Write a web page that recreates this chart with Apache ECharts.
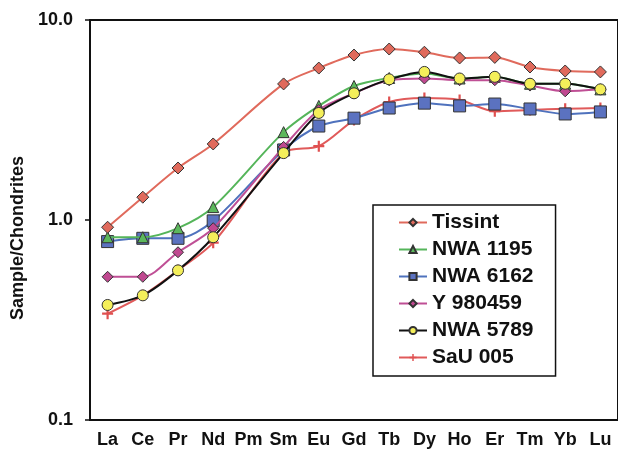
<!DOCTYPE html>
<html>
<head>
<meta charset="utf-8">
<script src="https://cdn.jsdelivr.net/npm/echarts@6/dist/echarts.min.js"></script>
<style>
  html, body { margin: 0; padding: 0; background: #fff; }
  #chart { width: 618px; height: 460px; }
</style>
</head>
<body>
<div id="chart"></div>
<script>
  // rare earth elements, Pm has no measurement
  var elements = ['La', 'Ce', 'Pr', 'Nd', 'Pm', 'Sm', 'Eu', 'Gd', 'Tb', 'Dy', 'Ho', 'Er', 'Tm', 'Yb', 'Lu'];
  var yTicks = [0.1, 1, 10];

  var tissint  = [0.92, 1.30, 1.82, 2.40, null, 4.79, 5.75, 6.68, 7.16, 6.90, 6.46, 6.50, 5.82, 5.56, 5.50];
  var nwa1195  = [0.82, 0.82, 0.91, 1.16, null, 2.75, 3.72, 4.68, 5.13, 5.40, 5.10, 5.20, 4.80, 4.80, 4.50];
  var nwa6162  = [0.78, 0.81, 0.81, 0.99, null, 2.24, 2.95, 3.23, 3.63, 3.84, 3.72, 3.80, 3.59, 3.39, 3.47];
  var y980459  = [0.52, 0.52, 0.69, 0.91, null, 2.32, 3.55, 4.30, 5.00, 5.10, 5.00, 5.00, 4.70, 4.40, 4.50];
  var nwa5789  = [0.376, 0.42, 0.56, 0.82, null, 2.16, 3.43, 4.30, 5.05, 5.50, 5.10, 5.20, 4.80, 4.80, 4.50];
  var sau005   = [0.34, 0.42, 0.56, 0.77, null, 2.16, 2.34, 3.16, 3.89, 4.07, 3.98, 3.50, 3.55, 3.60, 3.63];

  var font = 'Liberation Sans, Arial, sans-serif';
  var plus = 'path://M4,0H6V4H10V6H6V10H4V6H0V4H4Z';

  function makeSeries(name, data, lineColor, symbol, fill, size, z) {
    return {
      name: name,
      type: 'line',
      data: data,
      connectNulls: true,
      smooth: 0.3,
      z: z,
      symbol: symbol,
      symbolSize: size,
      lineStyle: { color: lineColor, width: 2 },
      itemStyle: {
        color: fill,
        borderColor: symbol === plus ? fill : '#333',
        borderWidth: symbol === plus ? 0 : 1
      }
    };
  }

  var chartDom = echarts.init(document.getElementById('chart'));
  var options = {
    animation: false,
    textStyle: { fontFamily: font },
    grid: {
      left: 90,
      right: -2,
      top: 20,
      bottom: 40,
      show: true,
      borderColor: '#111',
      borderWidth: 2
    },
    graphic: [{
      type: 'text',
      left: 9,
      top: 156,
      rotation: Math.PI / 2,
      style: {
        text: 'Sample/Chondrites',
        fill: '#111',
        font: 'bold 18px ' + font
      }
    }],
    legend: {
      orient: 'vertical',
      left: 373,
      top: 205,
      padding: [7, 22, 8, 25],
      itemGap: 6,
      itemWidth: 28,
      itemHeight: 9,
      backgroundColor: '#fff',
      borderColor: '#111',
      borderWidth: 1.5,
      textStyle: { fontSize: 21, fontWeight: 'bold', color: '#111', lineHeight: 21, fontFamily: font },
      data: ['Tissint', 'NWA 1195', 'NWA 6162', 'Y 980459', 'NWA 5789', 'SaU 005']
    },
    xAxis: {
      type: 'category',
      data: elements,
      boundaryGap: true,
      axisLine: { show: true, lineStyle: { color: '#111', width: 2 } },
      axisTick: { show: false },
      axisLabel: { color: '#111', fontSize: 18, fontWeight: 'bold', margin: 11, interval: 0 },
      splitLine: { show: false }
    },
    yAxis: {
      type: 'log',
      logBase: 10,
      min: yTicks[0],
      max: yTicks[yTicks.length - 1],
      axisLine: { show: true, lineStyle: { color: '#111', width: 2 } },
      axisTick: { show: true, length: 5, lineStyle: { color: '#111', width: 1.5 } },
      axisLabel: {
        color: '#111', fontSize: 18, fontWeight: 'bold', margin: 17,
        formatter: function (v) { return v.toFixed(1); }
      },
      splitLine: { show: false },
      minorTick: { show: false }
    },
    series: [
      makeSeries('Tissint', tissint, '#e06a5c', 'diamond', '#e06a5c', 12, 10),
      makeSeries('NWA 1195', nwa1195, '#55b55a', 'triangle', '#5cb85c', 11, 4),
      makeSeries('NWA 6162', nwa6162, '#4f72bd', 'rect', '#5b72c0', 12, 3),
      makeSeries('Y 980459', y980459, '#bf4f95', 'diamond', '#c04890', 11, 5),
      makeSeries('NWA 5789', nwa5789, '#111', 'circle', '#f4ef5a', 11, 6),
      makeSeries('SaU 005', sau005, '#e05a5a', plus, '#e05050', 11, 2)
    ]
  };
  chartDom.setOption(options);
</script>
</body>
</html>
